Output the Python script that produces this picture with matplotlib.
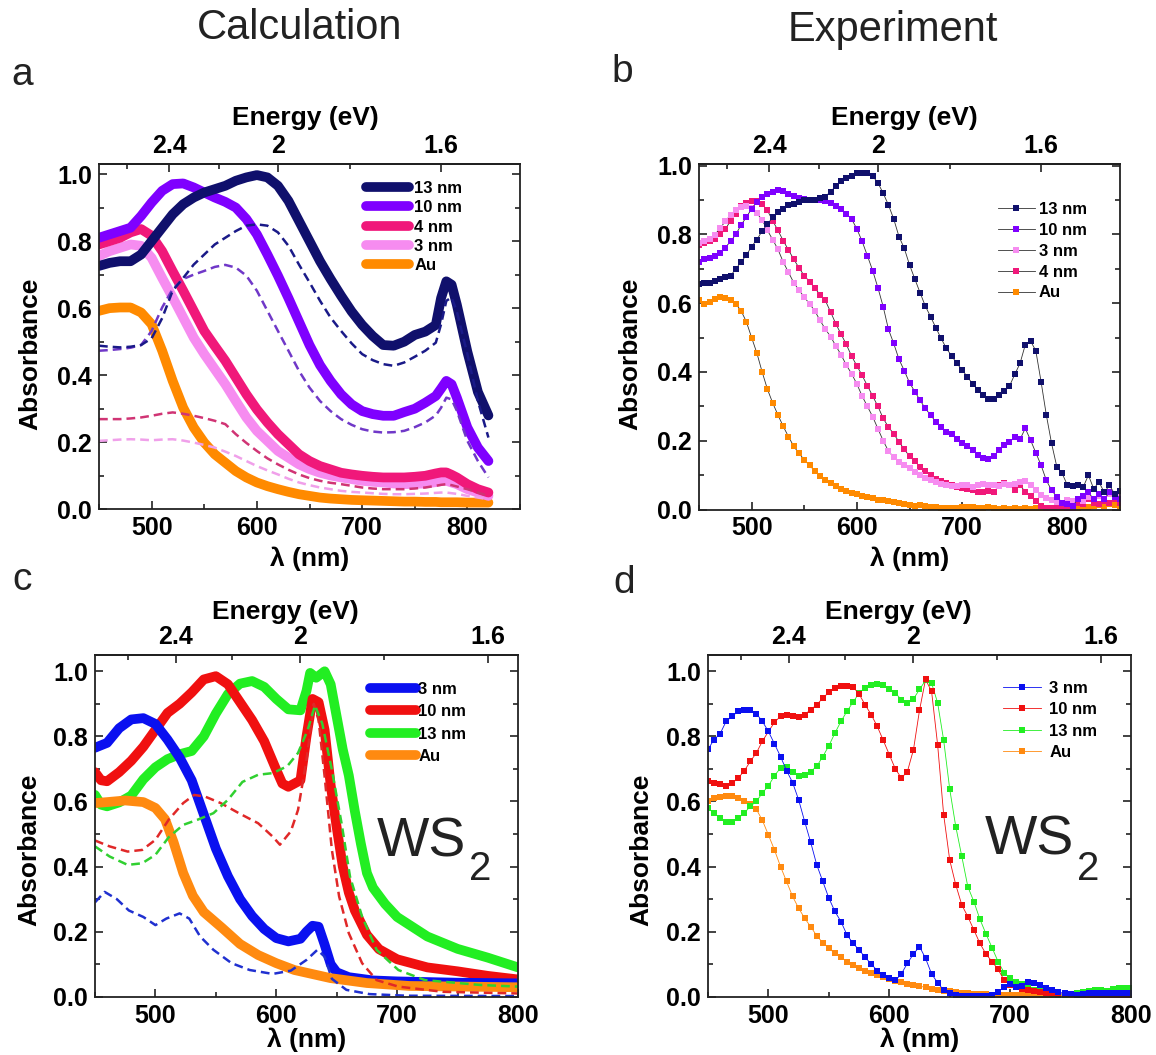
import numpy as np
import matplotlib
matplotlib.use('Agg')
import matplotlib.pyplot as plt
from matplotlib.ticker import MultipleLocator, FixedLocator, FuncFormatter, FormatStrFormatter

plt.rcParams['font.family'] = ['Liberation Sans', 'DejaVu Sans']
plt.rcParams['font.weight'] = 'bold'

# ---------------- Panel a (calculation, MoS2) ----------------
a_x = [450, 460, 470, 480, 490, 500, 510, 520, 530, 540, 550, 560, 570, 580, 590, 600, 610, 620, 630, 640,
       650, 660, 670, 680, 690, 700, 710, 720, 730, 740, 750, 760, 770, 775, 780, 785, 790, 800, 810, 820]
a_13 = [0.726, 0.735, 0.74, 0.74, 0.76, 0.80, 0.84, 0.88, 0.91, 0.93, 0.945, 0.955, 0.965, 0.98, 0.99, 0.997, 0.99, 0.965, 0.92, 0.86,
        0.80, 0.74, 0.687, 0.637, 0.59, 0.55, 0.517, 0.49, 0.488, 0.50, 0.52, 0.53, 0.55, 0.63, 0.68, 0.67, 0.61, 0.47, 0.35, 0.28]
a_10 = [0.81, 0.82, 0.83, 0.84, 0.875, 0.915, 0.95, 0.97, 0.972, 0.96, 0.945, 0.93, 0.917, 0.90, 0.866, 0.82, 0.76, 0.697, 0.63, 0.56,
        0.49, 0.43, 0.383, 0.343, 0.313, 0.293, 0.284, 0.279, 0.279, 0.29, 0.30, 0.318, 0.338, 0.36, 0.383, 0.373, 0.333, 0.244, 0.184, 0.144]
a_4 = [0.79, 0.80, 0.81, 0.826, 0.836, 0.816, 0.77, 0.71, 0.652, 0.592, 0.532, 0.487, 0.443, 0.393, 0.343, 0.298, 0.259, 0.224, 0.194, 0.164,
       0.144, 0.129, 0.119, 0.109, 0.104, 0.10, 0.097, 0.095, 0.095, 0.095, 0.097, 0.10, 0.107, 0.11, 0.11, 0.103, 0.095, 0.075, 0.06, 0.05]
a_3 = [0.756, 0.77, 0.78, 0.79, 0.786, 0.75, 0.69, 0.632, 0.572, 0.512, 0.463, 0.418, 0.373, 0.323, 0.274, 0.234, 0.204, 0.174, 0.154, 0.134,
       0.12, 0.109, 0.101, 0.095, 0.09, 0.085, 0.082, 0.08, 0.077, 0.075, 0.076, 0.077, 0.081, 0.084, 0.085, 0.08, 0.075, 0.06, 0.05, 0.04]
a_au = [0.592, 0.60, 0.602, 0.602, 0.587, 0.552, 0.473, 0.383, 0.303, 0.244, 0.199, 0.164, 0.139, 0.114, 0.095, 0.08, 0.069, 0.06, 0.052, 0.045,
        0.04, 0.035, 0.032, 0.03, 0.028, 0.027, 0.026, 0.025, 0.024, 0.023, 0.023, 0.022, 0.022, 0.021, 0.021, 0.021, 0.021, 0.02, 0.02, 0.02]
a_13d = [0.488, 0.485, 0.483, 0.485, 0.49, 0.51, 0.57, 0.652, 0.69, 0.73, 0.76, 0.79, 0.81, 0.83, 0.846, 0.85, 0.846, 0.826, 0.786, 0.73,
         0.677, 0.622, 0.572, 0.532, 0.495, 0.463, 0.445, 0.433, 0.428, 0.438, 0.455, 0.473, 0.497, 0.552, 0.622, 0.632, 0.59, 0.463, 0.323, 0.214]
a_10d = [0.473, 0.475, 0.478, 0.482, 0.49, 0.532, 0.602, 0.657, 0.687, 0.70, 0.711, 0.723, 0.729, 0.721, 0.697, 0.652, 0.592, 0.532, 0.473, 0.413,
         0.363, 0.323, 0.293, 0.269, 0.252, 0.239, 0.232, 0.229, 0.23, 0.234, 0.245, 0.259, 0.28, 0.303, 0.333, 0.328, 0.294, 0.204, 0.144, 0.095]
a_4d = [0.269, 0.269, 0.269, 0.271, 0.274, 0.279, 0.285, 0.289, 0.285, 0.279, 0.272, 0.264, 0.254, 0.224, 0.198, 0.174, 0.152, 0.134, 0.118, 0.104,
        0.093, 0.085, 0.079, 0.075, 0.07, 0.065, 0.062, 0.06, 0.06, 0.06, 0.062, 0.065, 0.07, 0.073, 0.075, 0.072, 0.068, 0.06, 0.05, 0.04]
a_3d = [0.204, 0.206, 0.208, 0.209, 0.208, 0.206, 0.208, 0.209, 0.205, 0.199, 0.192, 0.184, 0.172, 0.159, 0.144, 0.129, 0.116, 0.104, 0.091, 0.08,
        0.072, 0.065, 0.06, 0.055, 0.052, 0.05, 0.048, 0.046, 0.045, 0.045, 0.046, 0.047, 0.049, 0.05, 0.05, 0.048, 0.046, 0.04, 0.035, 0.03]

# ---------------- Panel b (experiment, MoS2), 5 nm steps 450..850 ----------------
b_x = list(range(450, 851, 5))
b_13 = [0.655, 0.66, 0.66, 0.665, 0.67, 0.675, 0.68, 0.70, 0.72, 0.74,
        0.765, 0.785, 0.81, 0.83, 0.85, 0.865, 0.875, 0.885, 0.89, 0.895,
        0.90, 0.90, 0.90, 0.905, 0.91, 0.925, 0.94, 0.955, 0.965, 0.97,
        0.978, 0.98, 0.978, 0.97, 0.95, 0.92, 0.886, 0.845, 0.794, 0.76,
        0.712, 0.671, 0.631, 0.592, 0.561, 0.529, 0.498, 0.469, 0.447, 0.425,
        0.406, 0.386, 0.365, 0.348, 0.333, 0.32, 0.32, 0.332, 0.346, 0.359,
        0.393, 0.425, 0.479, 0.49, 0.462, 0.372, 0.275, 0.192, 0.124, 0.105,
        0.071, 0.068, 0.07, 0.065, 0.10, 0.06, 0.08, 0.05, 0.07, 0.045,
        0.055]
b_10 = [0.72, 0.73, 0.733, 0.738, 0.745, 0.762, 0.78, 0.80, 0.828, 0.85,
        0.875, 0.895, 0.91, 0.918, 0.925, 0.928, 0.926, 0.918, 0.912, 0.906,
        0.903, 0.90, 0.899, 0.899, 0.897, 0.892, 0.884, 0.874, 0.86, 0.845,
        0.816, 0.78, 0.738, 0.695, 0.645, 0.59, 0.524, 0.483, 0.437, 0.404,
        0.369, 0.343, 0.318, 0.294, 0.275, 0.255, 0.241, 0.226, 0.219, 0.204,
        0.192, 0.184, 0.173, 0.158, 0.149, 0.146, 0.155, 0.173, 0.187, 0.197,
        0.21, 0.204, 0.236, 0.202, 0.165, 0.129, 0.085, 0.056, 0.037, 0.02,
        0.015, 0.01, 0.03, 0.04, 0.05, 0.03, 0.045, 0.03, 0.05, 0.035,
        0.03]
b_3 = [0.775, 0.782, 0.788, 0.799, 0.818, 0.838, 0.857, 0.872, 0.88, 0.883,
       0.878, 0.862, 0.842, 0.812, 0.785, 0.757, 0.72, 0.69, 0.66, 0.638,
       0.618, 0.598, 0.578, 0.55, 0.525, 0.503, 0.476, 0.45, 0.42, 0.395,
       0.365, 0.33, 0.30, 0.27, 0.235, 0.2, 0.17, 0.152, 0.138, 0.128,
       0.12, 0.11, 0.10, 0.092, 0.085, 0.079, 0.074, 0.071, 0.069, 0.067,
       0.07, 0.07, 0.066, 0.072, 0.075, 0.071, 0.07, 0.069, 0.073, 0.072,
       0.075, 0.08, 0.082, 0.072, 0.056, 0.042, 0.032, 0.028, 0.022, 0.018,
       0.027, 0.025, 0.03, 0.025, 0.035, 0.03, 0.04, 0.03, 0.045, 0.035,
       0.04]
b_4 = [0.77, 0.775, 0.78, 0.786, 0.80, 0.815, 0.84, 0.86, 0.882, 0.893,
       0.897, 0.898, 0.888, 0.87, 0.84, 0.812, 0.782, 0.755, 0.728, 0.703,
       0.68, 0.663, 0.644, 0.625, 0.608, 0.575, 0.54, 0.51, 0.48, 0.446,
       0.418, 0.39, 0.36, 0.33, 0.30, 0.265, 0.24, 0.22, 0.197, 0.175,
       0.155, 0.14, 0.125, 0.112, 0.10, 0.09, 0.082, 0.077, 0.071, 0.066,
       0.062, 0.06, 0.056, 0.051, 0.05, 0.055, 0.05, 0.07, 0.078, 0.072,
       0.058, 0.07, 0.052, 0.04, 0.025, 0.01, 0.005, 0.004, 0.005, 0.006,
       0.005, 0.004, 0.02, 0.015, 0.03, 0.02, 0.015, 0.025, 0.02, 0.03,
       0.02]
b_au = [0.61, 0.598, 0.605, 0.612, 0.617, 0.614, 0.608, 0.598, 0.578, 0.546,
        0.50, 0.455, 0.40, 0.35, 0.31, 0.275, 0.242, 0.212, 0.184, 0.163,
        0.145, 0.128, 0.113, 0.097, 0.086, 0.077, 0.067, 0.06, 0.054, 0.049,
        0.046, 0.04, 0.036, 0.033, 0.029, 0.027, 0.024, 0.021, 0.018, 0.015,
        0.012, 0.01, 0.012, 0.009, 0.008, 0.006, 0.005, 0.004, 0.005, 0.003,
        0.006, 0.008, 0.006, 0.003, 0.004, 0.006, 0.003, 0.002, 0.004, 0.002,
        0.003, 0.002, 0.004, 0.002, 0.003, 0.002, 0.004, 0.003, 0.002, 0.004,
        0.003, 0.005, 0.004, 0.006, 0.008, 0.01, 0.012, 0.01, 0.015, 0.012,
        0.01]

# ---------------- Panel c (calculation, WS2) ----------------
c_3_x = [450, 460, 470, 480, 490, 500, 510, 520, 530, 540, 550, 560, 570, 580, 590, 600, 610, 620, 625, 630,
         635, 640, 645, 650, 660, 680, 700, 750, 800]
c_3 = [0.765, 0.78, 0.825, 0.852, 0.856, 0.838, 0.79, 0.735, 0.665, 0.56, 0.455, 0.37, 0.30, 0.248, 0.208, 0.18, 0.17, 0.178, 0.2, 0.218,
       0.215, 0.16, 0.1, 0.075, 0.06, 0.05, 0.047, 0.043, 0.041]
c_10_x = [450, 455, 460, 470, 480, 490, 500, 510, 520, 530, 540, 550, 560, 570, 580, 590, 600, 605, 610, 615,
          620, 625, 630, 635, 640, 645, 650, 655, 660, 665, 675, 685, 700, 725, 750, 775, 800]
c_10 = [0.69, 0.665, 0.662, 0.69, 0.725, 0.768, 0.82, 0.872, 0.90, 0.935, 0.975, 0.985, 0.96, 0.905, 0.85, 0.785, 0.697, 0.655, 0.645, 0.655,
        0.665, 0.80, 0.915, 0.905, 0.82, 0.65, 0.52, 0.40, 0.32, 0.265, 0.19, 0.146, 0.115, 0.09, 0.078, 0.064, 0.053]
c_13_x = [450, 455, 460, 470, 480, 490, 500, 510, 520, 530, 540, 550, 560, 570, 580, 590, 600, 610, 620, 625,
          628, 633, 640, 645, 650, 655, 660, 665, 670, 675, 680, 690, 700, 725, 750, 775, 800]
c_13 = [0.62, 0.59, 0.585, 0.597, 0.618, 0.668, 0.705, 0.73, 0.745, 0.755, 0.80, 0.87, 0.93, 0.962, 0.97, 0.952, 0.915, 0.883, 0.88, 0.94,
        0.995, 0.98, 1.0, 0.96, 0.86, 0.76, 0.68, 0.57, 0.47, 0.38, 0.335, 0.285, 0.245, 0.185, 0.147, 0.12, 0.09]
c_au_x = [450, 460, 475, 490, 500, 508, 515, 523, 531, 540, 555, 570, 585, 600, 615, 645, 675, 710, 800]
c_au = [0.595, 0.598, 0.603, 0.598, 0.58, 0.545, 0.475, 0.38, 0.31, 0.26, 0.212, 0.162, 0.128, 0.103, 0.082, 0.057, 0.042, 0.033, 0.029]
c_3d_x = [450, 458, 468, 478, 490, 500, 509, 520, 528, 537, 548, 563, 578, 597, 612, 625, 634, 640, 646, 658, 677, 708, 800]
c_3d = [0.29, 0.322, 0.30, 0.265, 0.245, 0.22, 0.24, 0.256, 0.24, 0.185, 0.144, 0.103, 0.082, 0.07, 0.08, 0.113, 0.144, 0.123, 0.055, 0.021, 0.008, 0.003, 0.002]
c_10d_x = [450, 462, 477, 489, 500, 511, 523, 532, 541, 554, 569, 585, 597, 603, 612, 618, 625, 631, 635, 640, 646, 652, 660, 671, 683, 701, 738, 800]
c_10d = [0.48, 0.462, 0.446, 0.451, 0.482, 0.544, 0.595, 0.62, 0.615, 0.595, 0.564, 0.533, 0.492, 0.467, 0.508, 0.574, 0.728, 0.90, 0.85, 0.677,
         0.451, 0.308, 0.195, 0.103, 0.051, 0.031, 0.015, 0.01]
c_13d_x = [450, 462, 477, 489, 500, 511, 523, 535, 548, 560, 572, 585, 597, 609, 618, 626, 632, 638, 646, 654, 661, 671, 683, 701, 723, 769, 800]
c_13d = [0.462, 0.431, 0.405, 0.41, 0.436, 0.49, 0.528, 0.544, 0.564, 0.605, 0.66, 0.682, 0.687, 0.708, 0.749, 0.82, 0.895, 0.84, 0.697, 0.533,
         0.369, 0.246, 0.144, 0.082, 0.051, 0.036, 0.031]

# ---------------- Panel d (experiment, WS2), 5 nm steps ----------------
d_x = list(range(450, 801, 5))
d_3 = [0.76, 0.79, 0.808, 0.846, 0.862, 0.877, 0.882, 0.882, 0.87, 0.846,
       0.815, 0.777, 0.738, 0.695, 0.658, 0.605, 0.538, 0.474, 0.405, 0.354,
       0.303, 0.262, 0.231, 0.19, 0.164, 0.144, 0.121, 0.101, 0.08, 0.067,
       0.056, 0.05, 0.07, 0.103, 0.131, 0.154, 0.118, 0.07, 0.043, 0.02,
       0.01, 0.005, 0.003, 0.002, 0.001, 0.001, 0.002, 0.005, 0.015, 0.03,
       0.04, 0.03, 0.032, 0.046, 0.042, 0.036, 0.026, 0.02, 0.014, 0.01,
       0.008, 0.006, 0.008, 0.01, 0.012, 0.012, 0.01, 0.012, 0.01, 0.01,
       0.01]
d_10 = [0.662, 0.656, 0.653, 0.648, 0.656, 0.672, 0.694, 0.723, 0.749, 0.785,
        0.815, 0.843, 0.862, 0.867, 0.864, 0.859, 0.867, 0.882, 0.897, 0.918,
        0.935, 0.948, 0.954, 0.956, 0.952, 0.93, 0.897, 0.867, 0.831, 0.788,
        0.744, 0.70, 0.672, 0.692, 0.759, 0.88, 0.975, 0.938, 0.774, 0.559,
        0.42, 0.344, 0.282, 0.246, 0.205, 0.164, 0.131, 0.108, 0.084, 0.051,
        0.036, 0.03, 0.025, 0.02, 0.018, 0.015, 0.012, 0.01, 0.009, 0.008,
        0.007, 0.006, 0.006, 0.005, 0.005, 0.005, 0.004, 0.004, 0.004, 0.004,
        0.004]
d_13 = [0.579, 0.564, 0.549, 0.538, 0.538, 0.549, 0.564, 0.585, 0.60, 0.626,
        0.648, 0.679, 0.703, 0.706, 0.69, 0.679, 0.682, 0.692, 0.708, 0.738,
        0.771, 0.81, 0.846, 0.877, 0.905, 0.933, 0.949, 0.959, 0.962, 0.959,
        0.945, 0.933, 0.913, 0.903, 0.915, 0.944, 0.972, 0.964, 0.903, 0.788,
        0.638, 0.523, 0.431, 0.338, 0.292, 0.238, 0.193, 0.151, 0.108, 0.074,
        0.056, 0.046, 0.04, 0.03, 0.022, 0.018, 0.012, 0.008, 0.006, 0.005,
        0.008, 0.012, 0.015, 0.018, 0.02, 0.02, 0.018, 0.025, 0.028, 0.027,
        0.026]
d_au_x = list(range(450, 751, 5))
d_au = [0.60, 0.61, 0.615, 0.617, 0.617, 0.61, 0.60, 0.593, 0.576, 0.542,
        0.497, 0.451, 0.40, 0.354, 0.308, 0.272, 0.241, 0.215, 0.187, 0.166,
        0.149, 0.133, 0.121, 0.108, 0.097, 0.087, 0.08, 0.074, 0.067, 0.059,
        0.053, 0.048, 0.044, 0.04, 0.036, 0.032, 0.029, 0.025, 0.022, 0.019,
        0.016, 0.014, 0.012, 0.01, 0.009, 0.008, 0.007, 0.006, 0.006, 0.006,
        0.006, 0.006, 0.006, 0.006, 0.005, 0.005, 0.005, 0.005, 0.004, 0.004,
        0.004]

energy_major = [2.4, 2.0, 1.6]
energy_minor = [2.6, 2.2, 1.8]

# ---------------- figure ----------------
W, H = 1156, 1055
fig = plt.figure(figsize=(W / 100, H / 100), dpi=100)


def box(l, r, t, b):
    return [l / W, 1 - b / H, (r - l) / W, (b - t) / H]


ax_a = fig.add_axes(box(99, 520, 164, 509.3))
ax_b = fig.add_axes(box(699, 1120, 164, 509.5))
ax_c = fig.add_axes(box(95, 518, 655, 996.7))
ax_d = fig.add_axes(box(708, 1131, 655, 996.7))


def nm2ev(x):
    x = np.asarray(x, dtype=float)
    with np.errstate(divide='ignore', invalid='ignore'):
        return 1240.0 / x


def style(ax, xlim, ylim, elabel_x, elabel_y, ylab_x, ylab_y, xlab_y):
    ax.set_xlim(*xlim)
    ax.set_ylim(*ylim)
    ax.xaxis.set_major_locator(FixedLocator([500, 600, 700, 800]))
    ax.xaxis.set_minor_locator(FixedLocator([450, 550, 650, 750, 850]))
    ax.yaxis.set_major_locator(MultipleLocator(0.2))
    ax.yaxis.set_minor_locator(MultipleLocator(0.1))
    ax.yaxis.set_major_formatter(FormatStrFormatter('%.1f'))
    ax.tick_params(which='both', direction='in', top=False, right=True, width=1.2, colors='#222222')
    ax.tick_params(which='major', length=6, labelsize=18, pad=5, labelcolor='black')
    ax.tick_params(which='minor', length=3.5)
    for s in ax.spines.values():
        s.set_linewidth(1.3)
        s.set_color('#222222')
    sec = ax.secondary_xaxis('top', functions=(nm2ev, nm2ev))
    sec.xaxis.set_major_locator(FixedLocator(energy_major))
    sec.xaxis.set_minor_locator(FixedLocator(energy_minor))
    sec.xaxis.set_major_formatter(FuncFormatter(lambda v, p: '2' if abs(v - 2) < 1e-6 else '%.1f' % v))
    sec.tick_params(which='both', direction='in', width=1.2, colors='#222222')
    sec.tick_params(which='major', length=6, labelsize=18, pad=4, labelcolor='black')
    sec.tick_params(which='minor', length=3.5)
    sec.spines['top'].set_linewidth(1.3)
    ax.text(elabel_x, elabel_y, 'Energy (eV)', transform=ax.transAxes, ha='center', va='center', fontsize=19)
    ax.text(ylab_x, ylab_y, 'Absorbance', transform=ax.transAxes, ha='center', va='center',
            rotation=90, fontsize=19)
    ax.text(0.5, xlab_y, 'λ (nm)', transform=ax.transAxes, ha='center', va='center', fontsize=19)


# colours
C13, C10, C4, C3, CAU = '#10106c', '#7f00ff', '#f0187a', '#f68cf0', '#ff8a00'
D13, D10, D4, D3 = '#1a1a88', '#7038c8', '#d03474', '#f0a0ea'
WB, WR, WG, WO = '#0a10f0', '#f01010', '#22ee22', '#ff8a10'

thick = dict(lw=7, solid_capstyle='round', solid_joinstyle='round')
dash = dict(lw=1.8, linestyle=(0, (3.5, 2)))

# ---- panel a
la_au, = ax_a.plot(a_x, a_au, color=CAU, **thick)
la_3, = ax_a.plot(a_x, a_3, color=C3, **thick)
la_4, = ax_a.plot(a_x, a_4, color=C4, **thick)
la_10, = ax_a.plot(a_x, a_10, color=C10, **thick)
la_13, = ax_a.plot(a_x, a_13, color=C13, **thick)
ax_a.plot(a_x, a_3d, color=D3, **dash)
ax_a.plot(a_x, a_4d, color=D4, **dash)
ax_a.plot(a_x, a_10d, color=D10, **dash)
ax_a.plot(a_x, a_13d, color=D13, **dash)
style(ax_a, (450, 850), (0, 1.03), 0.49, 1.133, -0.164, 0.45, -0.142)
ax_a.legend([la_13, la_10, la_4, la_3, la_au], ['13 nm', '10 nm', '4 nm', '3 nm', 'Au'],
            loc='upper left', bbox_to_anchor=(0.634, 0.951), frameon=False, fontsize=12,
            handlelength=2.6, handletextpad=0.3, labelspacing=0.26, borderpad=0, borderaxespad=0)

# ---- panel b
mk = dict(marker='s', ms=3.9, mew=0, lw=0.6, color='#333333')
lb_au, = ax_b.plot(b_x, b_au, mfc=CAU, **mk)
lb_4, = ax_b.plot(b_x, b_4, mfc=C4, **mk)
lb_3, = ax_b.plot(b_x, b_3, mfc=C3, **mk)
lb_10, = ax_b.plot(b_x, b_10, mfc=C10, **mk)
lb_13, = ax_b.plot(b_x, b_13, mfc=C13, **mk)
style(ax_b, (450, 850), (0, 1.005), 0.487, 1.133, -0.164, 0.45, -0.142)
ax_b.legend([lb_13, lb_10, lb_3, lb_4, lb_au], ['13 nm', '10 nm', '3 nm', '4 nm', 'Au'],
            loc='upper left', bbox_to_anchor=(0.71, 0.89), frameon=False, fontsize=12, numpoints=1,
            handlelength=2.2, handletextpad=0.25, labelspacing=0.35, borderpad=0, borderaxespad=0)

# ---- panel c
lc_13, = ax_c.plot(c_13_x, c_13, color=WG, **thick)
lc_10, = ax_c.plot(c_10_x, c_10, color=WR, **thick)
lc_3, = ax_c.plot(c_3_x, c_3, color=WB, **thick)
lc_au, = ax_c.plot(c_au_x, c_au, color=WO, **thick)
ax_c.plot(c_3d_x, c_3d, color='#2030d0', **dash)
ax_c.plot(c_10d_x, c_10d, color='#e02828', **dash)
ax_c.plot(c_13d_x, c_13d, color='#30d030', **dash)
style(ax_c, (450, 800), (0, 1.05), 0.45, 1.125, -0.155, 0.43, -0.126)
ax_c.legend([lc_3, lc_10, lc_13, lc_au], ['3 nm', '10 nm', '13 nm', 'Au'],
            loc='upper left', bbox_to_anchor=(0.65, 0.921), frameon=False, fontsize=12,
            handlelength=2.75, handletextpad=0.15, labelspacing=0.44, borderpad=0, borderaxespad=0)
ax_c.text(0.667, 0.41, 'WS', transform=ax_c.transAxes, fontsize=40, fontweight='normal',
          ha='left', va='baseline', color='#222222')
ax_c.text(0.885, 0.342, '2', transform=ax_c.transAxes, fontsize=29, fontweight='normal',
          ha='left', va='baseline', color='#222222')

# ---- panel d
mkd = dict(marker='s', ms=4.3, mew=0, lw=0.6)
ld_au, = ax_d.plot(d_au_x, d_au, color=WO, mfc=WO, **mkd)
ld_13, = ax_d.plot(d_x, d_13, color=WG, mfc=WG, **mkd)
ld_10, = ax_d.plot(d_x, d_10, color=WR, mfc=WR, **mkd)
ld_3, = ax_d.plot(d_x, d_3, color=WB, mfc=WB, **mkd)
style(ax_d, (450, 800), (0, 1.05), 0.45, 1.125, -0.158, 0.43, -0.126)
ax_d.legend([ld_3, ld_10, ld_13, ld_au], ['3 nm', '10 nm', '13 nm', 'Au'],
            loc='upper left', bbox_to_anchor=(0.697, 0.924), frameon=False, fontsize=12, numpoints=1,
            handlelength=2.3, handletextpad=0.5, labelspacing=0.38, borderpad=0, borderaxespad=0)
ax_d.text(0.655, 0.415, 'WS', transform=ax_d.transAxes, fontsize=40, fontweight='normal',
          ha='left', va='baseline', color='#222222')
ax_d.text(0.872, 0.342, '2', transform=ax_d.transAxes, fontsize=29, fontweight='normal',
          ha='left', va='baseline', color='#222222')

# ---- headings and panel letters
fig.text(300 / W, 1 - 28 / H, 'Calculation', ha='center', va='center', fontsize=30, fontweight='normal', color='#222222')
fig.text(893 / W, 1 - 30 / H, 'Experiment', ha='center', va='center', fontsize=30, fontweight='normal', color='#222222')
for lx, ly, letter in [(22, 75, 'a'), (622, 72, 'b'), (22, 580, 'c'), (624, 583, 'd')]:
    fig.text(lx / W, 1 - ly / H, letter, ha='center', va='center', fontsize=28, fontweight='normal', color='#222222')

fig.savefig('out.png', dpi=100)
